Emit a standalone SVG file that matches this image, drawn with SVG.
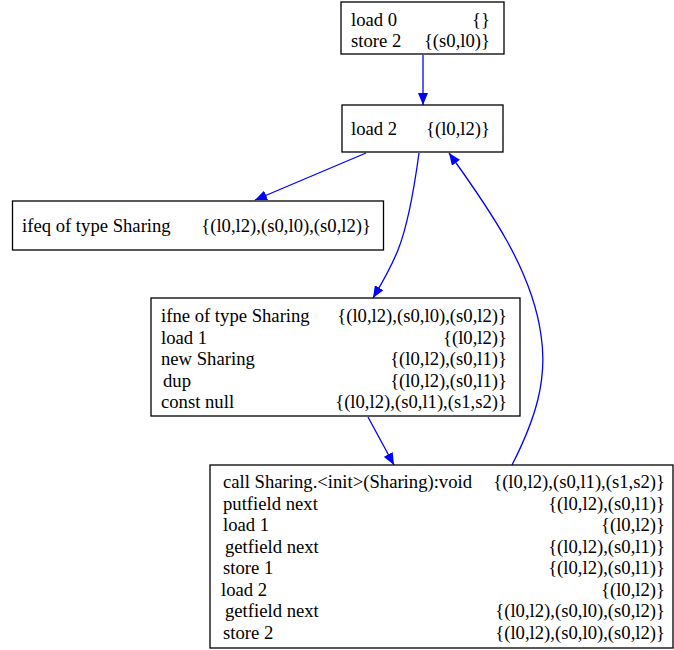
<svg xmlns="http://www.w3.org/2000/svg" width="674" height="650" viewBox="0 0 674 650">
<style>
.box{fill:#fff;stroke:#000;stroke-width:1.3}
text{font-family:"Liberation Serif","Times New Roman",serif;font-size:18.67px;fill:#000}
.r{text-anchor:end}
.e{fill:none;stroke:#0000ff;stroke-width:1.3}
</style>
<defs>
<marker id="ah" viewBox="0 0 12 10" refX="12" refY="5" markerWidth="12" markerHeight="10" markerUnits="userSpaceOnUse" orient="auto">
<path d="M0,0 L12,5 L0,10 Z" fill="#0000ff"/>
</marker>
</defs>
<rect width="674" height="650" fill="#fff"/>
<g id="edges">
<path class="e" d="M423,55 L423,105" marker-end="url(#ah)"/>
<path class="e" d="M366,153 L255,200" marker-end="url(#ah)"/>
<path class="e" d="M419,153 C414,190 408,225 398,250 C390,270 382,283 373,298" marker-end="url(#ah)"/>
<path class="e" d="M368,417 L394,465" marker-end="url(#ah)"/>
<path class="e" d="M512,465 C535,420 548,380 541,335 C532,270 490,210 449,153" marker-end="url(#ah)"/>
</g>
<g id="n1">
<rect class="box" x="341" y="2" width="163" height="52"/>
<text x="351" y="25.5">load 0</text><text class="r" x="490" y="25.5">{}</text>
<text x="351" y="47">store 2</text><text class="r" x="490" y="47">{(s0,l0)}</text>
</g>
<g id="n2">
<rect class="box" x="342" y="105" width="161" height="47"/>
<text x="351" y="135">load 2</text><text class="r" x="490" y="135">{(l0,l2)}</text>
</g>
<g id="n3">
<rect class="box" x="12.5" y="201" width="371" height="49"/>
<text x="22" y="232">ifeq of type Sharing</text><text class="r" x="371" y="232">{(l0,l2),(s0,l0),(s0,l2)}</text>
</g>
<g id="n4">
<rect class="box" x="151" y="298" width="369" height="118"/>
<text x="161" y="322">ifne of type Sharing</text><text class="r" x="507" y="322">{(l0,l2),(s0,l0),(s0,l2)}</text>
<text x="161" y="343.5">load 1</text><text class="r" x="507" y="343.5">{(l0,l2)}</text>
<text x="161" y="365">new Sharing</text><text class="r" x="507" y="365">{(l0,l2),(s0,l1)}</text>
<text x="163" y="386.5">dup</text><text class="r" x="507" y="386.5">{(l0,l2),(s0,l1)}</text>
<text x="161" y="408">const null</text><text class="r" x="507" y="408">{(l0,l2),(s0,l1),(s1,s2)}</text>
</g>
<g id="n5">
<rect class="box" x="210" y="465" width="463" height="183"/>
<text x="223" y="488">call Sharing.&lt;init&gt;(Sharing):void</text><text class="r" x="665" y="488">{(l0,l2),(s0,l1),(s1,s2)}</text>
<text x="223" y="509.5">putfield next</text><text class="r" x="665" y="509.5">{(l0,l2),(s0,l1)}</text>
<text x="223" y="531">load 1</text><text class="r" x="665" y="531">{(l0,l2)}</text>
<text x="225" y="552.5">getfield next</text><text class="r" x="665" y="552.5">{(l0,l2),(s0,l1)}</text>
<text x="223" y="574">store 1</text><text class="r" x="665" y="574">{(l0,l2),(s0,l1)}</text>
<text x="221" y="595.5">load 2</text><text class="r" x="665" y="595.5">{(l0,l2)}</text>
<text x="225" y="617">getfield next</text><text class="r" x="665" y="617">{(l0,l2),(s0,l0),(s0,l2)}</text>
<text x="223" y="638.5">store 2</text><text class="r" x="665" y="638.5">{(l0,l2),(s0,l0),(s0,l2)}</text>
</g>
</svg>
